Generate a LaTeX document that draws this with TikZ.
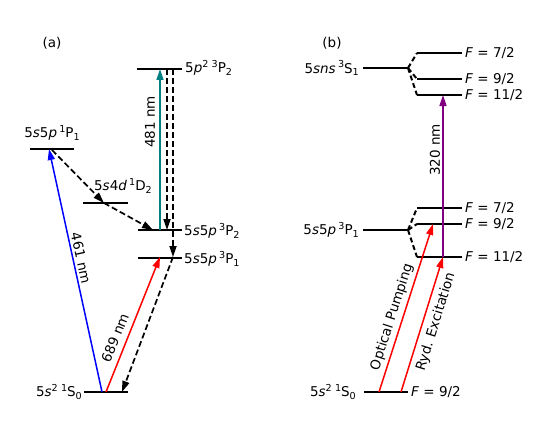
\documentclass[tikz,border=0pt]{standalone}
\usepackage{fontspec}
\setmainfont{DejaVu Sans}
\usetikzlibrary{arrows.meta}
\definecolor{mteal}{RGB}{0,128,128}
\definecolor{mpurple}{RGB}{128,0,128}
\newcommand{\su}[1]{\raisebox{0.42em}{\fontsize{9.6}{10}\selectfont #1}}
\newcommand{\sd}[1]{\raisebox{-0.2em}{\fontsize{9.6}{10}\selectfont #1}}
\begin{document}
\begin{tikzpicture}[x=1pt,y=-1pt,
  font=\fontsize{13.5}{16}\selectfont,
  lvl/.style={line width=2pt},
  arr/.style={line width=1.5pt,-{Triangle[length=11pt,width=7pt]}},
  dsh/.style={arr,line width=1.7pt,dash pattern=on 6pt off 3pt},
  splitln/.style={line width=2pt,dash pattern=on 5pt off 3pt},
  lab/.style={inner sep=1pt}]
\useasboundingbox (0,0) rectangle (545,433);
% ---------- panel (a) ----------
\node (ta) at (52,43) {(a)};
\coordinate (aP2hL) at (137,69);  \coordinate (aP2hR) at (182,69);
\coordinate (a1P1L) at (30,149);  \coordinate (a1P1R) at (74,149);
\coordinate (a1D2L) at (83,203);  \coordinate (a1D2R) at (128,203);
\coordinate (a3P2L) at (138,230); \coordinate (a3P2R) at (182,230);
\coordinate (a3P1L) at (138,258); \coordinate (a3P1R) at (182,258);
\coordinate (aS0L) at (84,392);   \coordinate (aS0R) at (128,392);
\draw[lvl] (aP2hL) -- (aP2hR);
\draw[lvl] (a1P1L) -- (a1P1R);
\draw[lvl] (a1D2L) -- (a1D2R);
\draw[lvl] (a3P2L) -- (a3P2R);
\draw[lvl] (a3P1L) -- (a3P1R);
\draw[lvl] (aS0L) -- (aS0R);
\node[lab,anchor=west] (laP2h) at (184,68) {5\textit{p}\su{2\,\,3}P\sd{2}};
\node[lab] (la1P1) at (52,133) {5\textit{s}5\textit{p}\,\su{1}P\sd{1}};
\node[lab] (la1D2) at (123,186) {5\textit{s}4\textit{d}\,\su{1}D\sd{2}};
\node[lab,anchor=west] (la3P2) at (183,231) {5\textit{s}5\textit{p}\,\su{3}P\sd{2}};
\node[lab,anchor=west] (la3P1) at (183,259) {5\textit{s}5\textit{p}\,\su{3}P\sd{1}};
\node[lab,anchor=east] (laS0) at (83,392) {5\textit{s}\su{2\,\,1}S\sd{0}};
\coordinate (t1) at (160,230); \coordinate (t2) at (160,69);
\draw[arr,mteal] (t1) -- (t2);
\node[rotate=90] (l481) at (150,122) {481 nm};
\coordinate (d1a) at (167,69); \coordinate (d1b) at (167,230);
\coordinate (d2a) at (173,69); \coordinate (d2b) at (173,257);
\coordinate (d3b) at (122,392);
\draw[dsh] (d1a) -- (d1b);
\draw[dsh] (d2a) -- (d2b);
\draw[dsh] (d2b) -- (d3b);
\coordinate (e1) at (52,150); \coordinate (e2) at (104,203); \coordinate (e3) at (153,230);
\draw[dsh] (e1) -- (e2);
\draw[dsh] (e2) -- (e3);
\coordinate (b1) at (102,392); \coordinate (b2) at (49,149);
\draw[arr,blue] (b1) -- (b2);
\node[rotate=-77.7] (l461) at (81,258) {461 nm};
\coordinate (r1) at (106,392); \coordinate (r2) at (160,257);
\draw[arr,red] (r1) -- (r2);
\node[rotate=68.2] (l689) at (115,338) {689 nm};
% ---------- panel (b) ----------
\node (tb) at (332,43) {(b)};
\coordinate (bS1L) at (363,68); \coordinate (bS1R) at (408,68);
\coordinate (bS7L) at (417,53); \coordinate (bS7R) at (462,53);
\coordinate (bS9L) at (417,79); \coordinate (bS9R) at (462,79);
\coordinate (bS11L) at (417,95); \coordinate (bS11R) at (462,95);
\draw[lvl] (bS1L) -- (bS1R);
\draw[lvl] (bS7L) -- (bS7R);
\draw[lvl] (bS9L) -- (bS9R);
\draw[lvl] (bS11L) -- (bS11R);
\draw[splitln] (bS1R) -- (bS7L);
\draw[splitln] (bS1R) -- (bS9L);
\draw[splitln] (bS1R) -- (bS11L);
\node[lab,anchor=east] (lbS1) at (360,68) {5\textit{sns}\,\su{3}S\sd{1}};
\node[lab,anchor=west] (lbS7) at (464,53) {\textit{F} = 7/2};
\node[lab,anchor=west] (lbS9) at (464,79) {\textit{F} = 9/2};
\node[lab,anchor=west] (lbS11) at (464,95) {\textit{F} = 11/2};
\coordinate (bP1L) at (363,230); \coordinate (bP1R) at (408,230);
\coordinate (bP7L) at (417,208); \coordinate (bP7R) at (462,208);
\coordinate (bP9L) at (417,224); \coordinate (bP9R) at (462,224);
\coordinate (bP11L) at (417,257); \coordinate (bP11R) at (462,257);
\draw[lvl] (bP1L) -- (bP1R);
\draw[lvl] (bP7L) -- (bP7R);
\draw[lvl] (bP9L) -- (bP9R);
\draw[lvl] (bP11L) -- (bP11R);
\draw[splitln] (bP1R) -- (bP7L);
\draw[splitln] (bP1R) -- (bP9L);
\draw[splitln] (bP1R) -- (bP11L);
\node[lab,anchor=east] (lbP1) at (360,230) {5\textit{s}5\textit{p}\,\su{3}P\sd{1}};
\node[lab,anchor=west] (lbP7) at (464,208) {\textit{F} = 7/2};
\node[lab,anchor=west] (lbP9) at (464,224) {\textit{F} = 9/2};
\node[lab,anchor=west] (lbP11) at (464,257) {\textit{F} = 11/2};
\coordinate (bS0L) at (364,392); \coordinate (bS0R) at (408,392);
\draw[lvl] (bS0L) -- (bS0R);
\node[lab,anchor=east] (lbS0) at (357,392) {5\textit{s}\su{2\,\,1}S\sd{0}};
\node[lab,anchor=west] (lbF9) at (410,392) {\textit{F} = 9/2};
\coordinate (p1) at (443,257); \coordinate (p2) at (443,95);
\draw[arr,mpurple] (p1) -- (p2);
\node[rotate=90] (l320) at (435,150) {320 nm};
\coordinate (o1) at (379,392); \coordinate (o2) at (433,224);
\draw[arr,red] (o1) -- (o2);
\node[rotate=72.2] (lop) at (392,317) {Optical Pumping};
\coordinate (y1) at (401,392); \coordinate (y2) at (443,257);
\draw[arr,red] (y1) -- (y2);
\node[rotate=72.7] (lry) at (436,322) {Ryd. Excitation};
\end{tikzpicture}
\end{document}
